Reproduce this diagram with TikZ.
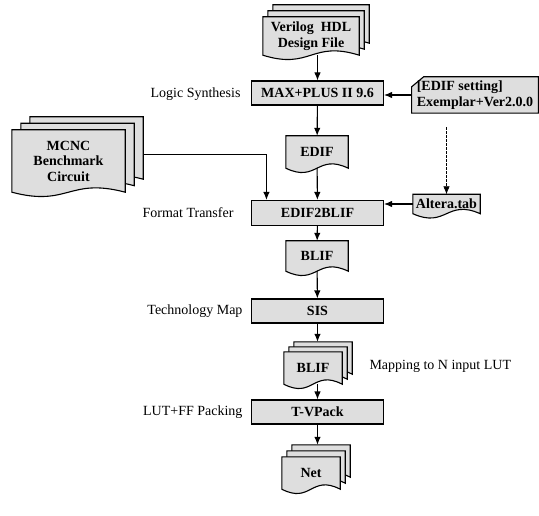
\documentclass[tikz,border=0pt]{standalone}
\usepackage{fontspec}
\setmainfont{Liberation Serif}
\usetikzlibrary{calc,backgrounds,arrows.meta}

% outline of a document sheet with a wavy bottom edge
\newcommand{\docsheet}[1]{%
  \filldraw[sheet] (#1.north west) -- (#1.north east) -- (#1.south east)
    .. controls ($(#1.south)+(0,-15)$) and ($(#1.south)+(0,15)$) .. (#1.south west) -- cycle;}

\begin{document}
\begin{tikzpicture}[x=1pt, y=-1pt,
        >={Latex[length=8pt,width=6.5pt]},
        sheet/.style={draw, line width=1.1pt, fill=black!13},
        process/.style={rectangle, draw, line width=1.1pt, fill=black!13, minimum width=132pt, minimum height=24pt, font=\fontsize{14}{15.5}\selectfont\bfseries},
        doc/.style={rectangle, inner sep=0pt, align=center, font=\fontsize{14}{15.5}\selectfont\bfseries},
        stage_label/.style={anchor=east, font=\fontsize{14}{15.5}\selectfont},
        flow/.style={->, line width=1.1pt}
    ]
        \useasboundingbox (0,0) rectangle (539,516);

        % Input: Verilog design file
        \node[doc, minimum width=96pt, minimum height=38pt] (verilog_back2) at (321,24) {};
        \node[doc, minimum width=96pt, minimum height=38pt] (verilog_back1) at (316,30) {};
        \node[doc, minimum width=96pt, minimum height=38pt] (verilog) at (311,36) {Verilog\ \ HDL\\Design File};

        % Logic synthesis
        \node[process] (max_plus) at (317.5,93) {MAX+PLUS II 9.6};
        \node[doc, align=left, inner xsep=5pt, minimum width=124pt, minimum height=36pt] (edif_setting) at (475,95) {[EDIF setting]\\Exemplar+Ver2.0.0};
        \node[doc, minimum width=62pt, minimum height=32pt] (edif) at (317,152) {EDIF};
        \draw[flow] (max_plus.north |- verilog.south) -- (max_plus.north);
        \draw[flow] (edif_setting.west) -- (edif_setting.west -| max_plus.east);
        \draw[flow] (max_plus) -- (edif);

        % Benchmark circuits
        \node[doc, minimum width=113pt, minimum height=62pt] (mcnc_back2) at (86.5,148) {};
        \node[doc, minimum width=113pt, minimum height=62pt] (mcnc_back1) at (77.5,154.5) {};
        \node[doc, minimum width=113pt, minimum height=62pt] (mcnc) at (68.5,161) {MCNC\\Benchmark\\Circuit};

        % Format transfer
        \node[process, minimum height=25pt] (edif2blif) at (317.5,213) {EDIF2BLIF};
        \node[doc, minimum width=67pt, minimum height=19pt] (altera) at (446.5,204) {Altera.tab};
        \coordinate (mcnc_in) at ($(edif2blif.north west)+(15.5,0)$);
        \draw[flow] (edif) -- (edif2blif);
        \draw[flow] (mcnc_back2.east |- mcnc_back1.east) -| (mcnc_in);
        \draw[flow] (altera.west) -- (altera.west -| edif2blif.east);
        \draw[->, line width=0.7pt, dash pattern=on 2.5pt off 1.5pt, shorten <=14pt] (edif_setting.south -| altera.north) -- (altera.north);

        % Technology mapping
        \node[doc, minimum width=62pt, minimum height=30pt] (blif) at (317,256) {BLIF};
        \node[process] (sis) at (317.5,311) {SIS};
        \node[doc, minimum width=58pt, minimum height=32pt] (blif_lut_back2) at (323,358) {};
        \node[doc, minimum width=58pt, minimum height=32pt] (blif_lut_back1) at (318,363) {};
        \node[doc, minimum width=58pt, minimum height=32pt] (blif_lut) at (313,368) {BLIF};
        \draw[flow] (edif2blif) -- (blif);
        \draw[flow] (blif) -- (sis);
        \draw[flow] (sis) -- (sis |- blif_lut_back2.north);

        % Packing
        \node[process] (tvpack) at (317.5,412) {T-VPack};
        \node[doc, minimum width=58pt, minimum height=32pt] (net_back2) at (321,461) {};
        \node[doc, minimum width=58pt, minimum height=32pt] (net_back1) at (316,467) {};
        \node[doc, minimum width=58pt, minimum height=32pt] (net) at (311,473) {Net};
        \draw[flow] (tvpack |- blif_lut.south) -- (tvpack);
        \draw[flow] (tvpack) -- (tvpack |- net_back2.north);

        % Sheets
        \begin{scope}[on background layer]
            \foreach \sheetname in {verilog_back2, verilog_back1, verilog, edif, mcnc_back2, mcnc_back1, mcnc, altera, blif, blif_lut_back2, blif_lut_back1, blif_lut, net_back2, net_back1, net}
                {\docsheet{\sheetname}}
            \filldraw[sheet] ($(edif_setting.north west)+(0,10)$) -- ($(edif_setting.north west)+(12,0)$) -- (edif_setting.north east) -- (edif_setting.south east) -- (edif_setting.south west) -- cycle;
        \end{scope}

        % Labels
        \node[stage_label] (logic_label) at (244,94) {Logic Synthesis};
        \node[stage_label] (format_label) at (237,213) {Format Transfer};
        \node[stage_label] (techmap_label) at (246,311) {Technology Map};
        \node[stage_label] (packing_label) at (246,412) {LUT+FF Packing};
        \node[stage_label, anchor=west] (mapping_label) at (366,366) {Mapping to N input LUT};

    \end{tikzpicture}
\end{document}
